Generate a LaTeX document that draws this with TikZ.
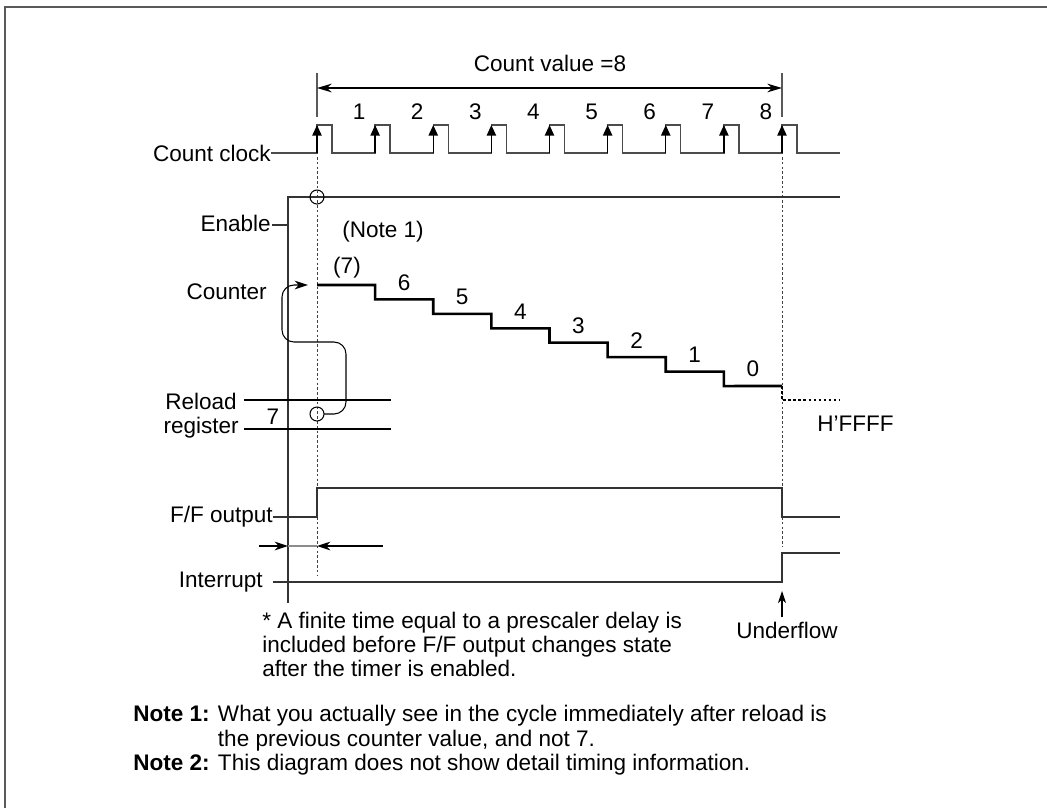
\documentclass[tikz,border=0pt]{standalone}
\usepackage{fontspec}
\setmainfont{Liberation Sans}
\usetikzlibrary{arrows.meta}
\begin{document}
\begin{tikzpicture}[x=0.75pt,y=-0.75pt,
  font=\fontsize{16.9}{18}\selectfont,
  every node/.style={inner sep=0pt},
  sig/.style={draw=black!80,line width=0.95pt},
  clk/.style={draw=black!70,line width=1.1pt},
  thick/.style={draw=black,line width=1.9pt},
  guide/.style={draw=black!75,line width=0.7pt,dash pattern=on 2pt off 1.6pt},
  tick/.style={draw=black!65,line width=0.8pt},
  frame/.style={draw=black!65,line width=1.1pt},
  stl/.style={-{Stealth[length=10pt,width=6.5pt,inset=3pt]}},
  tri/.style={-{Triangle[length=8pt,width=7pt]}},
  lbl/.style={anchor=east}]
\useasboundingbox (0,0) rectangle (1047,808);
% frame
\draw[frame] (5,808) -- (5,7) -- (1047,7);

% ---------- count value arrow ----------
\draw[tick] (317,73) -- (317,117);
\draw[tick] (782,73) -- (782,117);
\coordinate (cvL) at (317,88);
\coordinate (cvR) at (782,88);
\draw[line width=0.9pt,{Stealth[length=11pt,width=6.5pt,inset=3.5pt]}-{Stealth[length=11pt,width=6.5pt,inset=3.5pt]}] (cvL) -- (cvR);
\node (cvtext) at (550,63) {Count value =8};

% ---------- count clock ----------
\node[lbl] (lclk) at (271,153) {Count clock};
\draw[clk] (lclk.east) -- (317,153)
  \foreach \k in {0,...,8}{ -- ({317+58.125*\k},153) -- ++(0,-28) -- ++(15,0) -- ++(0,28)} -- (840,153);
\foreach \k in {0,...,8}{
  \draw[tri,line width=1.1pt,draw=black] ({317+58.125*\k},153) -- ({317+58.125*\k},125);
}
\foreach \k in {1,...,8}{
  \node (cn\k) at ({317+58.125*\k-16},112) {\k};
}

% ---------- guide lines ----------
\draw[guide] (317,157) -- (317,575);
\draw[guide] (782,157) -- (782,547);

% ---------- enable ----------
\draw[sig] (288,603) -- (288,197) -- (840,197);
\draw[line width=0.8pt] (317,197) circle[radius=7];
\node[lbl] (len) at (271,223) {Enable};
\draw[sig] (len.east) ++(1,2) -- (288,225);
\node (note1) at (383,232) {(Note 1)};

% ---------- counter ----------
\node[lbl] (lcnt) at (267,292) {Counter};
\draw[thick,line cap=butt]
  (317,285) \foreach \j in {1,...,7}{ -- ({317+58.125*\j},{285+14.43*(\j-1)}) -- ({317+58.125*\j},{285+14.43*\j})} -- (782,386);
\draw[line width=1.9pt,dash pattern=on 1.9pt off 1.9pt] (782,386) -- (782,400) -- (840,400);
\node (c7) at (347,268) {(7)};
\foreach \j/\v in {1/6,2/5,3/4,4/3,5/2,6/1,7/0}{
  \node (cv\j) at ({317+58.125*\j+29},{285+14.43*\j-17}) {\v};
}
\node[anchor=west] (hffff) at (817,424) {H’FFFF};

% ---------- reload register ----------
\node[lbl] (lrel) at (237,401) {Reload};
\node[lbl] (lreg) at (239,428) {register};
\draw[thick] (244,400) -- (391,400);
\draw[thick] (244,429) -- (391,429);
\node (r7) at (273,417) {7};
\draw[line width=0.8pt] (317,414) circle[radius=7];
\coordinate (rc) at (324,414);
\coordinate (cstart) at (308,285);
\draw[line width=0.8pt,rounded corners=9pt,-{Stealth[length=10pt,width=6.5pt,inset=3pt]}]
  (rc) -- (346,414) -- (346,342) -- (282,342) -- (282,285) -- (cstart);

% ---------- F/F output ----------
\node[lbl] (lff) at (273,517) {F/F output};
\draw[sig] (lff.east) -- (317,517) -- (317,488) -- (782,488) -- (782,517) -- (840,517);

% delay arrows
\coordinate (dA) at (259,546);
\coordinate (dB) at (288,546);
\coordinate (dC) at (317,546);
\coordinate (dD) at (383,546);
\draw[line width=0.8pt,stl] (dA) -- (dB);
\draw[line width=0.8pt,draw=black!45] (dB) -- (dC);
\draw[line width=0.8pt,stl] (dD) -- (dC);

% ---------- interrupt ----------
\node[lbl] (lint) at (263,582) {Interrupt};
\draw[sig] (273,582) -- (782,582) -- (782,553) -- (840,553);
\node (uf) at (787,630) {Underflow};
\draw[line width=0.8pt,-{Stealth[length=9pt,width=6pt,inset=2.5pt]}] (uf.north -| 782,0) ++(0,-4) -- (782,591);

% ---------- footnote ----------
\node[anchor=north west,align=left,font=\fontsize{16.9}{18}\selectfont] (foot) at (262,612)
  {* A finite time equal to a prescaler delay is\\
   included before F/F output changes state\\
   after the timer is enabled.};

\node[anchor=north west,align=left,font=\fontsize{16.9}{18.4}\selectfont] (notes) at (133,705)
  {\textbf{Note 1:} What you actually see in the cycle immediately after reload is\\
   \phantom{\textbf{Note 1:} }the previous counter value, and not 7.\\
   \textbf{Note 2:} This diagram does not show detail timing information.};
\end{tikzpicture}
\end{document}
